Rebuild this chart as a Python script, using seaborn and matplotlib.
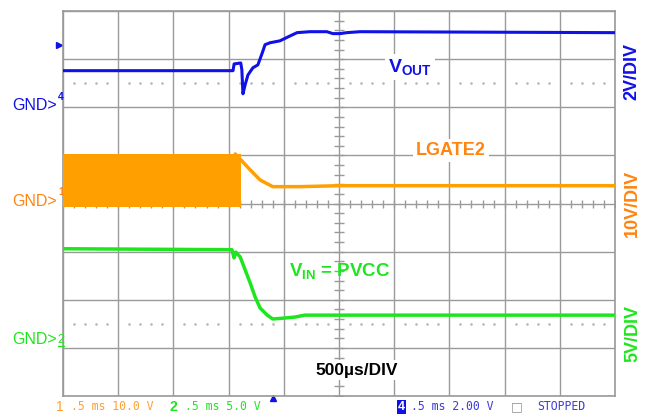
import matplotlib
matplotlib.use("Agg")
import matplotlib.pyplot as plt
import seaborn as sns
import pandas as pd
import numpy as np

# screen units: x in divisions (500us/div), y in divisions (0..8 from bottom)
vout_t = [0.0, 3.08, 3.10, 3.22, 3.24, 3.26, 3.30, 3.35, 3.44, 3.53, 3.61, 3.66,
          3.75, 3.93, 4.11, 4.24, 4.47, 4.78, 4.89, 5.02, 5.14, 5.38, 10.0]
vout_v = [6.76, 6.76, 6.90, 6.92, 6.78, 6.28, 6.47, 6.67, 6.82, 6.88, 7.13, 7.30,
          7.34, 7.38, 7.48, 7.55, 7.57, 7.57, 7.53, 7.53, 7.55, 7.57, 7.55]

lgate_burst_t = [0.0, 3.22]
lgate_burst_hi = [5.03, 5.03]
lgate_burst_lo = [3.93, 3.93]
lgate_t = [3.12, 3.22, 3.39, 3.57, 3.70, 3.80, 4.29, 5.02, 10.0]
lgate_v = [5.03, 4.91, 4.70, 4.49, 4.41, 4.35, 4.35, 4.37, 4.37]

vin_t = [0.0, 3.06, 3.10, 3.13, 3.21, 3.30, 3.39, 3.48, 3.57, 3.70, 3.80,
         4.02, 4.20, 4.38, 4.84, 10.0]
vin_v = [3.06, 3.04, 2.87, 2.99, 2.89, 2.62, 2.35, 2.06, 1.83, 1.68, 1.60,
         1.62, 1.64, 1.68, 1.68, 1.68]

ref_dot_levels = [6.5, 1.5]
trig_level = 7.30
trig_time = 3.80

BLUE = "#1010e8"
ORANGE = "#ffa000"
ORANGE_TXT = "#ff8410"
GREEN = "#1ee61e"
GRID = "#9a9a9a"

W, H = 649, 417
sns.set_theme(style="white")
plt.rcParams["font.family"] = ["Liberation Sans", "DejaVu Sans"]
plt.rcParams["mathtext.fontset"] = "custom"
plt.rcParams["mathtext.bf"] = "Liberation Sans:bold"
plt.rcParams["mathtext.rm"] = "Liberation Sans"
plt.rcParams["mathtext.it"] = "Liberation Sans:italic"

fig = plt.figure(figsize=(W / 100, H / 100), dpi=100)
ax = fig.add_axes([63 / W, 21 / H, 552 / W, 385 / H])
ax.set_xlim(0, 10)
ax.set_ylim(0, 8)
ax.set_xticks(range(11))
ax.set_yticks(range(9))
ax.tick_params(length=0, labelbottom=False, labelleft=False)
ax.grid(True, color=GRID, lw=1)
for s in ax.spines.values():
    s.set_color(GRID)
    s.set_linewidth(1.2)

# centre-line minor ticks
fine = np.arange(0, 10.01, 0.2)
ax.plot(fine, np.full_like(fine, 4), ls="none", marker="|", ms=6, color=GRID, mew=1)
fine_y = np.arange(0, 8.01, 0.2)
ax.plot(np.full_like(fine_y, 5), fine_y, ls="none", marker="_", ms=7, color=GRID, mew=1)

# dotted reference rows
dots = np.array([v for v in np.arange(0.2, 10, 0.2) if abs(v - round(v)) > 0.05])
for lv in ref_dot_levels:
    ax.plot(dots, np.full_like(dots, lv), ls="none", marker="s", ms=0.8, color="#b8b8b8")

# LGATE2 switching burst
ax.fill_between(lgate_burst_t, lgate_burst_lo, lgate_burst_hi, color=ORANGE, lw=0, zorder=3)
sns.lineplot(x=lgate_t, y=lgate_v, ax=ax, color=ORANGE, lw=2.5, estimator=None, sort=False, zorder=3)
sns.lineplot(x=vout_t, y=vout_v, ax=ax, color=BLUE, lw=2.2, estimator=None, sort=False, zorder=3)
sns.lineplot(x=vin_t, y=vin_v, ax=ax, color=GREEN, lw=2.5, estimator=None, sort=False, zorder=3)

# trigger markers
ax.plot([-0.08], [trig_level], marker=">", ms=5, color=BLUE, clip_on=False)
ax.plot([trig_time], [-0.05], marker="^", ms=5, color=BLUE, clip_on=False)


def fp(x, y):
    return x / W, 1 - y / H


wbox = dict(facecolor="white", edgecolor="none", pad=2)
fig.text(*fp(388, 72), r"$\mathbf{V_{OUT}}$", color=BLUE, fontsize=14,
         va="baseline", bbox=wbox)
fig.text(*fp(416, 155), "LGATE2", color=ORANGE_TXT, fontsize=13, fontweight="bold",
         va="baseline", bbox=wbox)
fig.text(*fp(289, 276), r"$\mathbf{V_{IN}}$ = PVCC", color=GREEN, fontsize=13.5,
         fontweight="bold", va="baseline")
fig.text(*fp(315, 370), "500\u00b5s/DIV", color="black", fontsize=12.5,
         fontweight="bold", va="center", bbox=wbox)

fig.text(*fp(632, 72), "2V/DIV", color=BLUE, fontsize=13, fontweight="bold",
         rotation=90, ha="center", va="center")
fig.text(*fp(632, 203), "10V/DIV", color=ORANGE_TXT, fontsize=13, fontweight="bold",
         rotation=90, ha="center", va="center")
fig.text(*fp(633, 334), "5V/DIV", color=GREEN, fontsize=13, fontweight="bold",
         rotation=90, ha="center", va="center")

# ground markers
gnd = [("4", BLUE, 106), ("1", ORANGE_TXT, 201), ("2", GREEN, 340)]
for ch, col, yy in gnd:
    fig.text(*fp(57, yy), "GND>", color=col, fontsize=11.5, ha="right", va="center")
    if ch == "2":
        fig.text(*fp(61, yy), ch, color=col, fontsize=9, ha="center", va="center")
        fig.add_artist(plt.Line2D([58 / W, 64 / W], [1 - 346 / H] * 2, color=col, lw=1))
    else:
        fig.text(*fp(61, yy - 9), ch, color=col, fontsize=7.5, fontweight="bold",
                 ha="center", va="center")

# status bar
mono = "DejaVu Sans Mono"
sy = 407
fig.text(*fp(56, sy), "1", color="#ffa030", fontsize=10, va="center")
fig.text(*fp(71, sy), ".5 ms 10.0 V", color="#ffa030", fontsize=8.3, family=mono, va="center")
fig.text(*fp(169, sy), "2", color=GREEN, fontsize=10, fontweight="bold", va="center")
fig.text(*fp(185, sy), ".5 ms 5.0 V", color=GREEN, fontsize=8.3, family=mono, va="center")
fig.text(*fp(398, sy), "4", color="white", fontsize=9, fontweight="bold", va="center",
         bbox=dict(facecolor=BLUE, edgecolor="none", pad=0.5))
fig.text(*fp(411, sy), ".5 ms 2.00 V", color="#3c3cd8", fontsize=8.3, family=mono, va="center")
fig.text(*fp(511, sy), "\u25a1", color="#909090", fontsize=9, va="center", family="DejaVu Sans")
fig.text(*fp(537, sy), "STOPPED", color="#3c3cd8", fontsize=8.3, family=mono, va="center")

fig.savefig("out.png", dpi=100, facecolor="white")
